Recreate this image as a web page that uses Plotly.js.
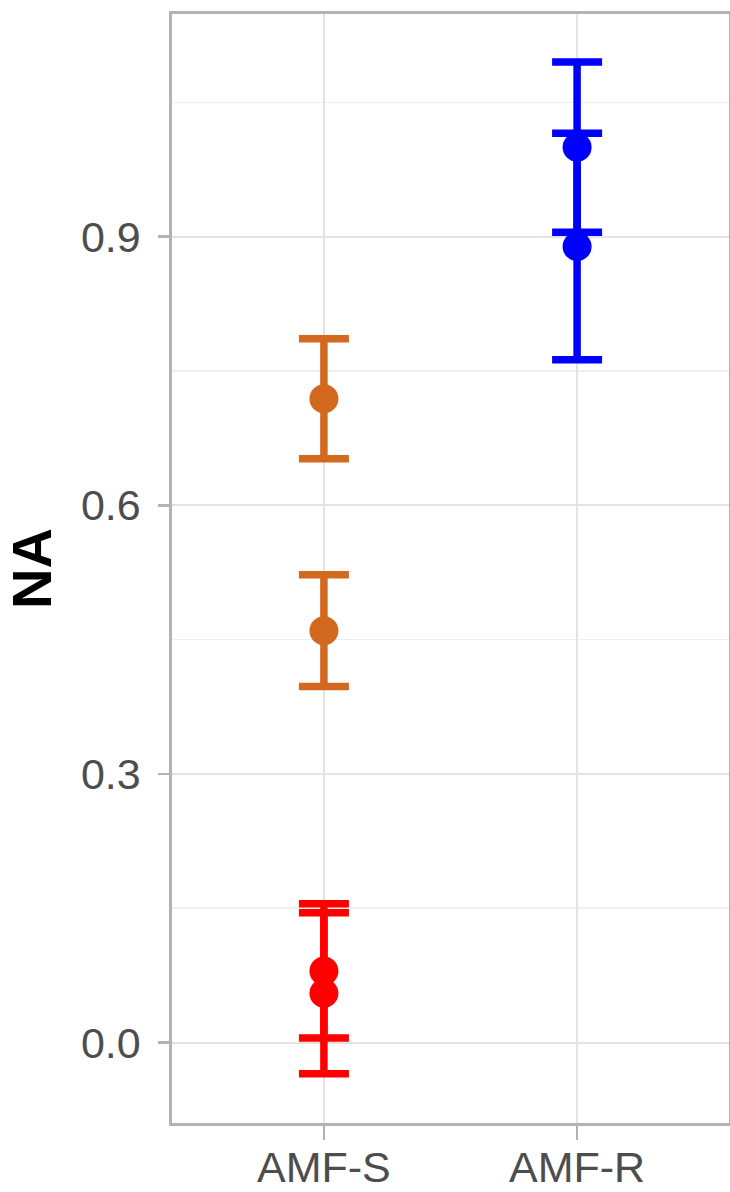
<!DOCTYPE html>
<html>
<head>
<meta charset="utf-8">
<script src="https://cdn.plot.ly/plotly-3.0.1.min.js"></script>
<style>html,body{margin:0;padding:0;background:#fff;}</style>
</head>
<body>
<div id="chart" style="width:730px;height:1192px;"></div>
<script>
// Data
const redCategories = ['AMF-S', 'AMF-S'];
const redValues = [0.080, 0.055];
const redErrors = [0.075, 0.090];

const orangeCategories = ['AMF-S', 'AMF-S'];
const orangeValues = [0.719, 0.460];
const orangeErrors = [0.067, 0.0625];

const blueCategories = ['AMF-R', 'AMF-R'];
const blueValues = [1.000, 0.889];
const blueErrors = [0.095, 0.1265];

const xCategories = ['AMF-S', 'AMF-R'];
const yTickValues = [0.0, 0.3, 0.6, 0.9];
const yTickLabels = ['0.0', '0.3', '0.6', '0.9'];
const yMinorValues = [0.15, 0.45, 0.75, 1.05];
const yAxisTitle = 'NA';

function makeTrace(x, y, err, color) {
  return {
    type: 'scatter', mode: 'markers', x: x, y: y,
    marker: {color: color, size: 29},
    error_y: {type: 'data', array: err, visible: true, color: color, thickness: 7.5, width: 25},
    showlegend: false, hoverinfo: 'skip'
  };
}

const data = [
  makeTrace(redCategories, redValues, redErrors, '#FF0000'),
  makeTrace(orangeCategories, orangeValues, orangeErrors, '#D2691E'),
  makeTrace(blueCategories, blueValues, blueErrors, '#0000FF')
];

const font = 'Liberation Sans, Arial, sans-serif';
const layout = {
  width: 730, height: 1192,
  margin: {l: 172, r: 1, t: 14, b: 69, pad: 0},
  paper_bgcolor: '#ffffff', plot_bgcolor: '#ffffff',
  showlegend: false,
  xaxis: {
    type: 'category', categoryorder: 'array', categoryarray: xCategories,
    range: [-0.6, 1.6], automargin: false,
    showgrid: true, gridcolor: '#e3e3e3', gridwidth: 2,
    showline: true, mirror: true, linecolor: '#b3b3b3', linewidth: 2.7,
    ticks: 'outside', ticklen: 14, tickwidth: 2.5, tickcolor: '#b3b3b3',
    ticklabelstandoff: -9,
    tickfont: {family: font, size: 43, color: '#4d4d4d'},
    zeroline: false
  },
  yaxis: {
    range: [-0.0899, 1.1487], automargin: false,
    tickmode: 'array', tickvals: yTickValues, ticktext: yTickLabels,
    showgrid: true, gridcolor: '#e3e3e3', gridwidth: 2,
    minor: {tickmode: 'array', tickvals: yMinorValues, showgrid: true, gridcolor: '#efefef', gridwidth: 1.5, ticks: ''},
    showline: true, mirror: true, linecolor: '#b3b3b3', linewidth: 2.7,
    ticks: 'outside', ticklen: 11, tickwidth: 2.5, tickcolor: '#b3b3b3',
    ticklabelstandoff: 9,
    tickfont: {family: font, size: 43, color: '#4d4d4d'},
    zeroline: false,
    title: {text: yAxisTitle, font: {family: font, size: 56, color: '#000000', weight: 'bold'}, standoff: 30}
  }
};

Plotly.newPlot('chart', data, layout, {staticPlot: true, displayModeBar: false});
</script>
</body>
</html>
